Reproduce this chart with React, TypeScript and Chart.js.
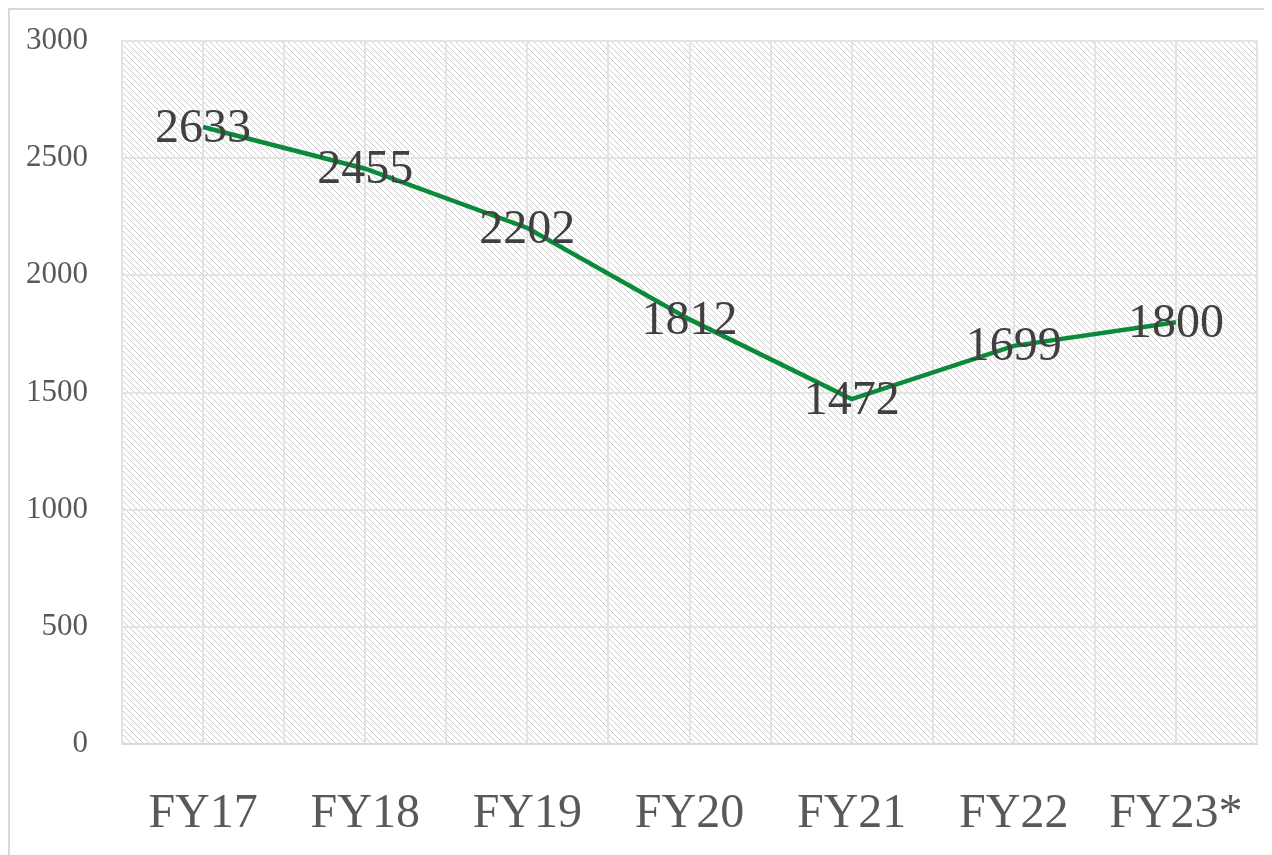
import React, { useEffect, useRef } from "react";
import { Chart, registerables } from "chart.js";

Chart.register(...registerables);

const categories = ["FY17", "FY18", "FY19", "FY20", "FY21", "FY22", "FY23*"];
const values = [2633, 2455, 2202, 1812, 1472, 1699, 1800];
const yTicks = [0, 500, 1000, 1500, 2000, 2500, 3000];

const FONT = "'Liberation Serif', 'DejaVu Serif', serif";

function makePattern(ctx: CanvasRenderingContext2D) {
  const size = 6;
  const c = document.createElement("canvas");
  c.width = size;
  c.height = size;
  const p = c.getContext("2d")!;
  p.fillStyle = "#ffffff";
  p.fillRect(0, 0, size, size);
  p.fillStyle = "#cdcdcd";
  for (let i = 0; i < size; i++) {
    p.fillRect(i, i, 1, 1);
  }
  return ctx.createPattern(c, "repeat")!;
}

const hatchPlugin = {
  id: "hatch",
  beforeDraw(chart: any) {
    const { ctx, chartArea } = chart;
    if (!chartArea) return;
    ctx.save();
    ctx.fillStyle = makePattern(ctx);
    ctx.fillRect(chartArea.left, chartArea.top, chartArea.right - chartArea.left, chartArea.bottom - chartArea.top);
    ctx.restore();
  },
};

const labelPlugin = {
  id: "valueLabels",
  afterDatasetsDraw(chart: any) {
    const { ctx } = chart;
    const meta = chart.getDatasetMeta(0);
    ctx.save();
    ctx.font = `48px ${FONT}`;
    ctx.fillStyle = "#404040";
    ctx.textAlign = "center";
    ctx.textBaseline = "middle";
    meta.data.forEach((pt: any, i: number) => {
      ctx.fillText(String(values[i]), pt.x, pt.y + 2);
    });
    ctx.restore();
  },
};

export default function App() {
  const ref = useRef<HTMLCanvasElement | null>(null);
  useEffect(() => {
    if (!ref.current) return;
    const chart = new Chart(ref.current, {
      type: "line",
      data: {
        labels: categories,
        datasets: [
          {
            data: values,
            borderColor: "#0a8a3a",
            borderWidth: 4.5,
            pointRadius: 0,
            tension: 0,
            fill: false,
            xAxisID: "x",
          },
        ],
      },
      options: {
        animation: false,
        responsive: false,
        maintainAspectRatio: false,
        layout: { padding: { left: 0, right: 15, top: 31, bottom: 0 } },
        plugins: { legend: { display: false }, tooltip: { enabled: false } },
        scales: {
          x: {
            type: "category",
            offset: true,
            grid: {
              offset: true,
              color: "#e3e3e3",
              lineWidth: 2,
              drawTicks: true,
              tickLength: 42,
              tickColor: "rgba(0,0,0,0)",
            },
            border: { display: true, color: "#d9d9d9", width: 2 },
            ticks: { color: "#595959", font: { family: FONT, size: 48 }, padding: 0, maxRotation: 0, autoSkip: false },
            afterFit(scale: any) {
              scale.height = 111;
            },
          },
          x2: {
            type: "category",
            labels: categories,
            position: "bottom",
            offset: true,
            grid: { offset: false, color: "#e3e3e3", lineWidth: 2, drawTicks: false },
            border: { display: false },
            ticks: { display: false },
            afterFit(scale: any) {
              scale.height = 0;
            },
          },
          y: {
            min: 0,
            max: 3000,
            afterBuildTicks(scale: any) {
              scale.ticks = yTicks.map((v) => ({ value: v }));
            },
            grid: {
              color: "#e3e3e3",
              lineWidth: 2,
              drawTicks: true,
              tickLength: 34,
              tickColor: "rgba(0,0,0,0)",
            },
            border: { display: true, color: "#e3e3e3", width: 2 },
            ticks: {
              color: "#595959",
              font: { family: FONT, size: 31 },
              padding: 0,
              callback: (v: any) => String(v),
            },
            afterFit(scale: any) {
              scale.width = 112;
            },
          },
        },
      },
      plugins: [hatchPlugin, labelPlugin],
    });
    return () => chart.destroy();
  }, []);
  return (
    <div
      style={{
        width: 1264,
        height: 847,
        boxSizing: "border-box",
        borderLeft: "2px solid #d9d9d9",
        borderTop: "2px solid #d9d9d9",
        overflow: "hidden",
      }}
    >
      <canvas ref={ref} width={1262} height={845} style={{ display: "block" }} />
    </div>
  );
}
